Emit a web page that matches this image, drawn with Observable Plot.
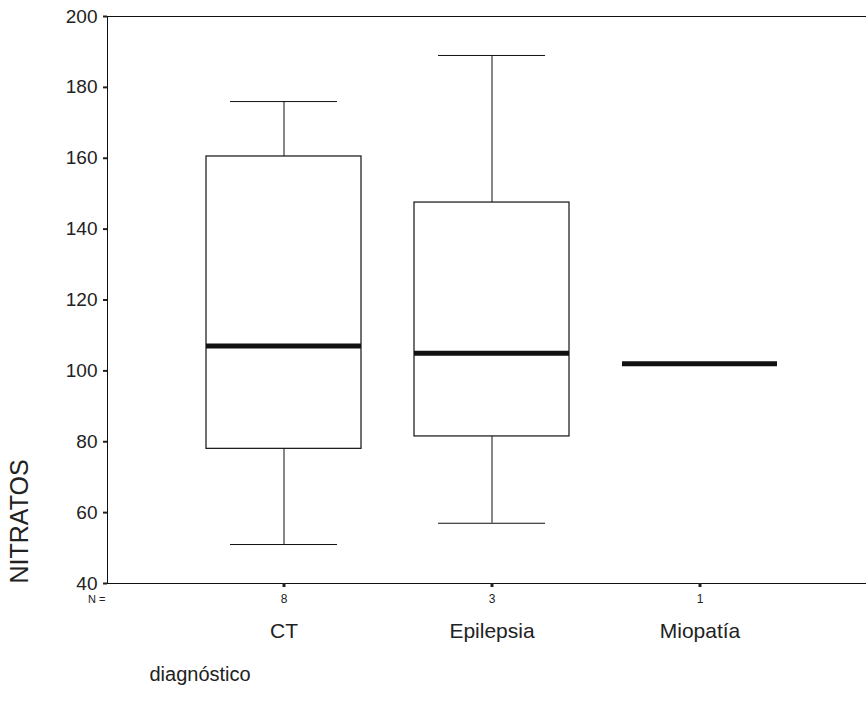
<!DOCTYPE html>
<html>
<head>
<meta charset="utf-8">
<script src="https://cdn.jsdelivr.net/npm/d3@7"></script>
<script src="https://cdn.jsdelivr.net/npm/@observablehq/plot@0.6"></script>
<style>
  html, body { margin: 0; padding: 0; background: #fff; overflow: hidden; }
  #chart { width: 866px; height: 716px; overflow: hidden; }
  #chart svg { overflow: hidden; }
</style>
</head>
<body>
<div id="chart"></div>
<script>
const categories = ["CT", "Epilepsia", "Miopatía"];
const counts = [8, 3, 1];
const whiskerLow = [51, 57, 102];
const q1 = [78, 81.5, 102];
const median = [107, 105, 102];
const q3 = [160.5, 147.5, 102];
const whiskerHigh = [176, 189, 102];
const yTicks = [40, 60, 80, 100, 120, 140, 160, 180, 200];

const data = categories.map((c, i) => ({
  cat: c, n: counts[i], lo: whiskerLow[i], q1: q1[i], med: median[i], q3: q3[i], hi: whiskerHigh[i]
}));
const boxes = data.filter(d => d.n > 1);

const chart = Plot.plot({
  width: 866,
  height: 716,
  marginTop: 16,
  marginBottom: 133,
  marginLeft: 107,
  marginRight: -14,
  style: { fontFamily: "Liberation Sans, Arial, sans-serif", color: "#222", background: "#fff", overflow: "hidden" },
  x: { type: "band", domain: categories, range: [205, 778], paddingInner: 0.255, paddingOuter: 0 },
  y: { domain: [40, 200] },
  marks: [
    Plot.frame({ stroke: "#111", strokeWidth: 1 }),
    Plot.ruleX(boxes, { x: "cat", y1: "lo", y2: "q1", stroke: "#111" }),
    Plot.ruleX(boxes, { x: "cat", y1: "q3", y2: "hi", stroke: "#111" }),
    Plot.tickY(boxes, { x: "cat", y: "lo", insetLeft: 24, insetRight: 24, stroke: "#111" }),
    Plot.tickY(boxes, { x: "cat", y: "hi", insetLeft: 24, insetRight: 24, stroke: "#111" }),
    Plot.barY(boxes, { x: "cat", y1: "q1", y2: "q3", fill: "white", stroke: "#111", strokeWidth: 1.2 }),
    Plot.tickY(data, { x: "cat", y: "med", stroke: "#111", strokeWidth: 5 }),
    Plot.axisY({ ticks: yTicks, tickSize: 4, strokeWidth: 2, tickPadding: 6, fontSize: 19, label: null }),
    Plot.axisX({ tickSize: 4, strokeWidth: 3, tickPadding: 7, fontSize: 12, label: null,
                 tickFormat: (d) => String(counts[categories.indexOf(d)]) }),
    Plot.axisX({ tickSize: 0, tickPadding: 40, fontSize: 21, label: null }),
    Plot.text(["N ="], { frameAnchor: "bottom-left", dx: -2, dy: 19, textAnchor: "end", fontSize: 11 }),
    Plot.text(["NITRATOS"], { frameAnchor: "bottom-left", dx: -80, dy: 0, rotate: -90, textAnchor: "start", fontSize: 25 }),
    Plot.text(["diagnóstico"], { frameAnchor: "bottom-left", dx: 42, dy: 97, textAnchor: "start", fontSize: 20 })
  ]
});
document.getElementById("chart").appendChild(chart);
</script>
</body>
</html>
